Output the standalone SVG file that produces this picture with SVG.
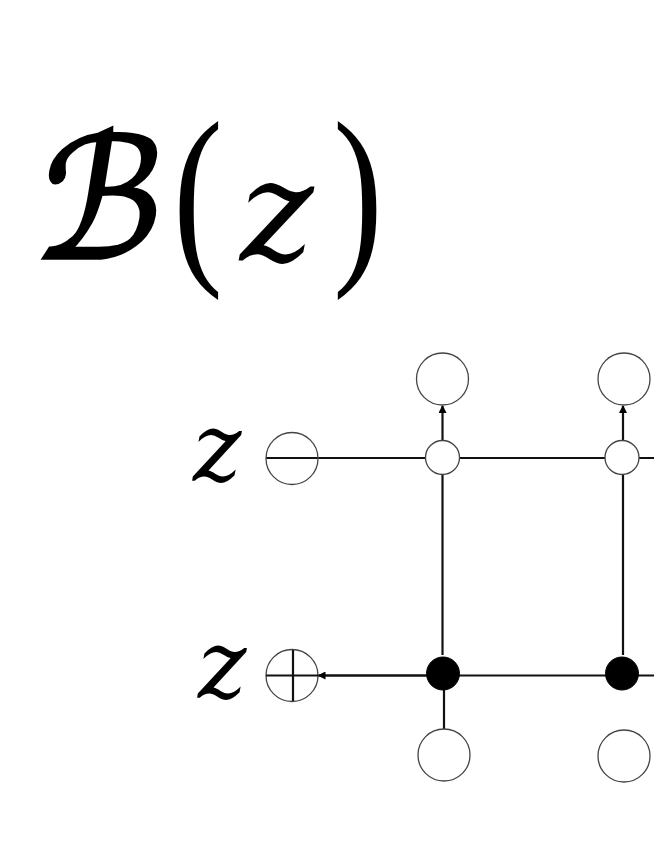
<svg xmlns="http://www.w3.org/2000/svg" width="654" height="846" viewBox="0 0 654 846">
<style>
.n{fill:#fff;stroke:#444;stroke-width:1.3}
.h{fill:none;stroke:#444;stroke-width:1.3}
.b{fill:#000;stroke:#000;stroke-width:1}
.c{fill:none;stroke:#111;stroke-width:2.200}
.t{font-family:"DejaVu Sans","Liberation Serif",serif;fill:#000;stroke:#000;stroke-width:3.500}
.z{font-family:"DejaVu Serif",serif;font-style:italic;fill:#000}
.p{font-family:"Liberation Serif",serif;fill:#000}
</style>
<defs><marker id="a" markerWidth="8" markerHeight="8" refX="7" refY="4" orient="auto" markerUnits="userSpaceOnUse"><path d="M0 0L8 4L0 8Z" fill="#000"/></marker></defs>
<text class="t" transform="translate(30 258) skewX(-9) scale(1 1.05)" font-size="160">ℬ</text>
<text class="p" transform="translate(173 258) scale(1 1.32)" font-size="150">(</text>
<text class="z" transform="translate(240 260) scale(1 1.02)" font-size="140">z</text>
<text class="p" transform="translate(333 258) scale(1 1.32)" font-size="150">)</text>
<text class="z" transform="translate(193 481) scale(1 1.03)" font-size="92">z</text>
<text class="z" transform="translate(198 698) scale(1 1.03)" font-size="92">z</text>
<g id="connectors">
<path class="c" d="M266 458H654M442.500 475V655M623 475V655M318 675.500H654M444 690V729" />
<path class="c" d="M442.500 441V406" marker-end="url(#a)"/>
<path class="c" d="M623 441V406" marker-end="url(#a)"/>
<path class="c" d="M426 675.500H318.500" marker-end="url(#a)"/>
</g>
<g id="n-top1"><circle class="n" cx="442.500" cy="379" r="26"/></g>
<g id="n-top2"><circle class="n" cx="624" cy="379" r="26"/></g>
<g id="n-z1"><circle class="h" cx="292" cy="458.500" r="26"/></g>
<g id="n-z2"><circle class="h" cx="292" cy="675.500" r="26"/><path class="c" d="M293 650V701M266 675.500H318"/></g>
<g id="n-w1"><circle class="n" cx="442.500" cy="457.500" r="17"/></g>
<g id="n-w2"><circle class="n" cx="622" cy="457.500" r="17"/></g>
<g id="n-b1"><circle class="b" cx="443" cy="673.500" r="16.500"/></g>
<g id="n-b2"><circle class="b" cx="622" cy="673.500" r="16.500"/></g>
<g id="n-bot1"><circle class="n" cx="444" cy="755" r="26"/></g>
<g id="n-bot2"><circle class="n" cx="624" cy="756" r="26"/></g>
</svg>
